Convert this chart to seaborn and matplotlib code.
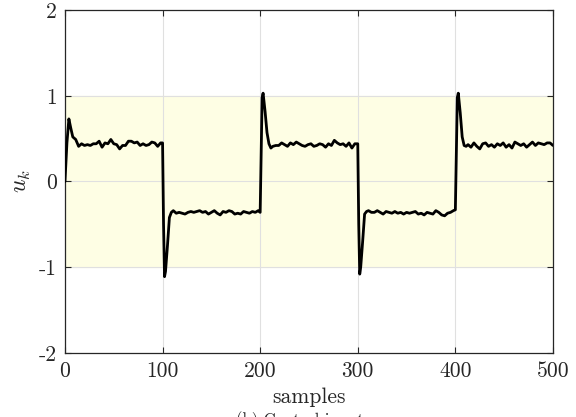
import numpy as np
import pandas as pd
import seaborn as sns
from matplotlib import pyplot as plt

# control input u_k
k_seg1 = [0, 2, 4, 6, 8, 11, 14, 17, 20, 23, 26, 29, 32, 35, 38, 41, 44, 47, 50, 53,
          56, 59, 62, 65, 68, 71, 74, 77, 80, 83, 86, 89, 92, 95, 98, 100]
u_seg1 = [0, 0.45, 0.73, 0.62, 0.52, 0.49, 0.41, 0.44, 0.42, 0.43, 0.42, 0.44, 0.44, 0.47,
          0.40, 0.45, 0.44, 0.49, 0.44, 0.43, 0.38, 0.42, 0.42, 0.47, 0.47, 0.45, 0.46,
          0.42, 0.44, 0.42, 0.43, 0.46, 0.45, 0.41, 0.45, 0.45]

k_seg2 = [101, 102, 103, 105, 107, 109, 111, 114, 117, 120, 123, 126, 129, 132, 135, 138,
          141, 144, 147, 150, 153, 156, 159, 162, 165, 168, 171, 174, 177, 180, 183, 186,
          189, 192, 195, 198, 200]
u_seg2 = [-0.5, -1.11, -1.05, -0.75, -0.42, -0.36, -0.34, -0.37, -0.36, -0.37, -0.38,
          -0.36, -0.35, -0.36, -0.35, -0.34, -0.36, -0.35, -0.38, -0.36, -0.34, -0.37,
          -0.39, -0.35, -0.36, -0.34, -0.35, -0.38, -0.37, -0.38, -0.35, -0.36, -0.37,
          -0.35, -0.36, -0.34, -0.36]

k_seg3 = [201, 202, 203, 205, 207, 209, 211, 213, 216, 219, 222, 225, 228, 231, 234, 237,
          240, 243, 246, 249, 252, 255, 258, 261, 264, 267, 270, 273, 276, 279, 282, 285,
          288, 291, 294, 297, 300]
u_seg3 = [0.3, 0.98, 1.03, 0.82, 0.57, 0.44, 0.39, 0.41, 0.42, 0.42, 0.45, 0.43, 0.41,
          0.45, 0.43, 0.46, 0.44, 0.42, 0.41, 0.43, 0.44, 0.41, 0.42, 0.44, 0.43, 0.40,
          0.44, 0.42, 0.48, 0.45, 0.43, 0.44, 0.41, 0.45, 0.39, 0.44, 0.44]

k_seg4 = [301, 302, 303, 305, 307, 309, 311, 314, 317, 320, 323, 326, 329, 332, 335, 338,
          341, 344, 347, 350, 353, 356, 359, 362, 365, 368, 371, 374, 377, 380, 383, 386,
          389, 392, 395, 398, 400]
u_seg4 = [-0.5, -1.08, -1.0, -0.7, -0.38, -0.35, -0.34, -0.36, -0.36, -0.34, -0.36,
          -0.38, -0.35, -0.36, -0.37, -0.35, -0.37, -0.36, -0.38, -0.36, -0.37, -0.36,
          -0.35, -0.38, -0.37, -0.39, -0.36, -0.37, -0.38, -0.34, -0.36, -0.39, -0.40,
          -0.37, -0.36, -0.34, -0.33]

k_seg5 = [401, 402, 403, 405, 407, 409, 411, 413, 416, 419, 422, 425, 428, 431, 434, 437,
          440, 443, 446, 449, 452, 455, 458, 461, 464, 467, 470, 473, 476, 479, 482, 485,
          488, 491, 494, 497, 500]
u_seg5 = [0.3, 0.98, 1.03, 0.80, 0.52, 0.42, 0.41, 0.43, 0.40, 0.45, 0.41, 0.38, 0.44,
          0.45, 0.41, 0.43, 0.40, 0.44, 0.42, 0.45, 0.40, 0.43, 0.39, 0.46, 0.44, 0.42,
          0.44, 0.40, 0.43, 0.46, 0.42, 0.45, 0.44, 0.43, 0.45, 0.45, 0.42]

u_min, u_max = -1, 1
x_ticks = [0, 100, 200, 300, 400, 500]
y_ticks = [-2, -1, 0, 1, 2]

df = pd.DataFrame({
    "k": k_seg1 + k_seg2 + k_seg3 + k_seg4 + k_seg5,
    "u": u_seg1 + u_seg2 + u_seg3 + u_seg4 + u_seg5,
})

sns.set_style("ticks")
plt.rcParams["font.family"] = ["cmr10", "DejaVu Serif"]
plt.rcParams["mathtext.fontset"] = "cm"
plt.rcParams["axes.unicode_minus"] = False
plt.rcParams["axes.formatter.use_mathtext"] = False

fig = plt.figure(figsize=(5.76, 4.17), dpi=100)
ax = fig.add_axes([0.1128, 0.1535, 0.8472, 0.8225])

ax.axhspan(u_min, u_max, color="#fefee4", zorder=0)
ax.grid(True, color="#e0e0e0", linewidth=0.8, zorder=1)
ax.set_axisbelow(True)

sns.lineplot(data=df, x="k", y="u", color="black", linewidth=2.0, estimator=None,
             ax=ax, zorder=3)

ax.set_xlim(0, 500)
ax.set_ylim(-2, 2)
ax.set_xticks(x_ticks)
ax.set_yticks(y_ticks)
ax.set_xticklabels([str(t) for t in x_ticks])
ax.set_yticklabels([str(t) for t in y_ticks])
ax.tick_params(direction="in", top=True, right=True, length=4, width=0.8,
               labelsize=15.5, colors="#262626", pad=6)
for s in ax.spines.values():
    s.set_color("#262626")
    s.set_linewidth(0.9)

ax.set_xlabel("samples", fontsize=15.5, labelpad=0)
ax.xaxis.set_label_coords(0.5, -0.1)
ax.set_ylabel(r"$u_k$", fontsize=17, labelpad=4)
# caption sits at the very bottom edge, only its top shows (as in the reference)
fig.text(0.52, 0.014, "(b) Control input", ha="center", va="top", fontsize=12)

fig.savefig("out.png", dpi=100)
